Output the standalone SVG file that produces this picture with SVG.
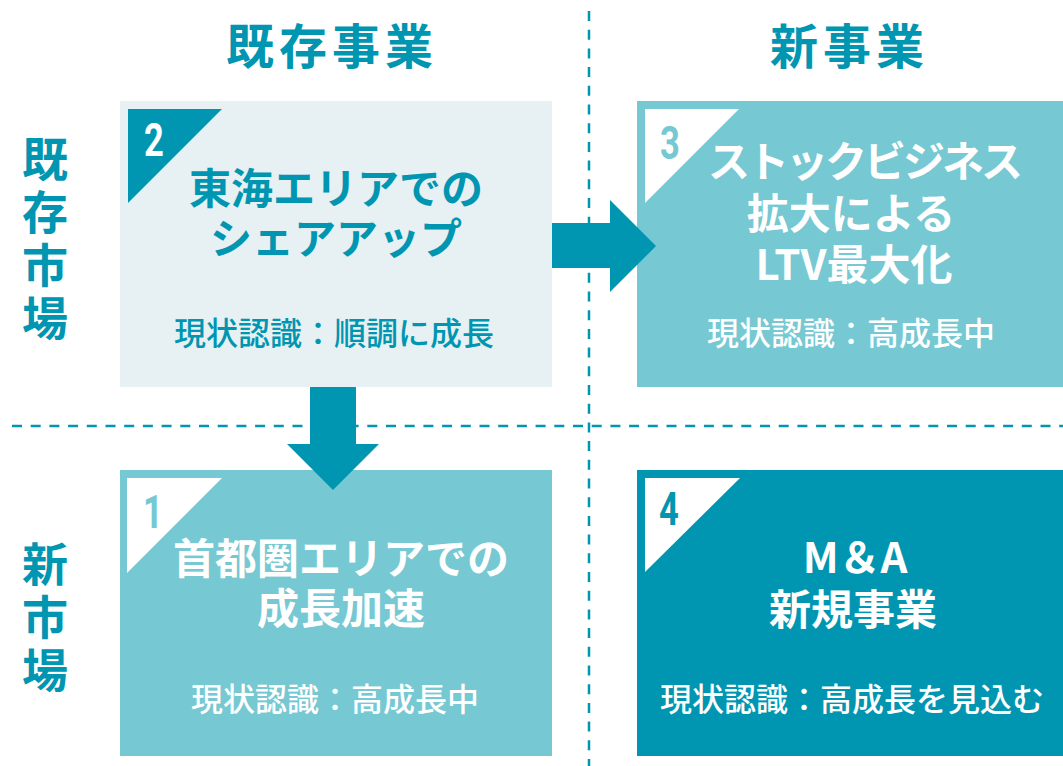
<svg xmlns="http://www.w3.org/2000/svg" width="1063" height="766" viewBox="0 0 1063 766">
<style>
.jp{font-family:"Noto Sans CJK JP","Noto Sans",sans-serif}
.hd{font-size:48px;font-weight:700;fill:#0096b1;letter-spacing:5px}
.side{font-size:46px;font-weight:700;fill:#0096b1;writing-mode:vertical-rl;letter-spacing:7px}
.ttl{font-size:42px;font-weight:700;text-anchor:middle}
.st{font-size:32px;font-weight:500;text-anchor:middle}
.num{font-family:Roboto,"Liberation Sans",sans-serif;font-size:46px;font-weight:700}
.dash{stroke:#0096b1;stroke-width:2.5;stroke-dasharray:10 8.7;fill:none}
.dark{fill:#0096b1}
.light{fill:#76c8d2}
.pale{fill:#e7f0f3}
.white{fill:#ffffff}
</style>
<g id="guides">
<line class="dash" x1="589" y1="11" x2="589" y2="766"/>
<line class="dash" x1="12" y1="426" x2="1063" y2="426"/>
</g>
<g id="headers" class="jp">
<text class="hd" x="226" y="64">既存事業</text>
<text class="hd" x="770" y="64">新事業</text>
<text class="side" x="45" y="136">既存市場</text>
<text class="side" x="45" y="541">新市場</text>
</g>
<g id="node2">
<rect class="pale" x="120" y="101" width="432" height="286"/>
<polygon class="dark" points="128,109 222,109 128,203"/>
<text class="num white" transform="translate(144,156) scale(0.75,1)">2</text>
<text class="jp ttl dark" x="336" y="204">東海エリアでの</text>
<text class="jp ttl dark" x="336" y="254">シェアアップ</text>
<text class="jp st dark" x="334" y="345">現状認識：順調に成長</text>
</g>
<g id="node3">
<rect class="light" x="637" y="101" width="426" height="286"/>
<polygon class="white" points="645,109 739,109 645,203"/>
<text class="num light" transform="translate(660,159) scale(0.75,1)">3</text>
<text class="jp white" x="708" y="177" style="font-size:42px;font-weight:700;letter-spacing:-3px">ストックビジネス</text>
<text class="jp ttl white" x="851" y="229">拡大による</text>
<text class="jp ttl white" x="854" y="280">LTV最大化</text>
<text class="jp st white" x="851" y="345">現状認識：高成長中</text>
</g>
<g id="node1">
<rect class="light" x="120" y="470" width="432" height="286"/>
<polygon class="white" points="127,478 222,478 127,573"/>
<text class="num light" transform="translate(143,528) scale(0.75,1)">1</text>
<text class="jp ttl white" x="341" y="574">首都圏エリアでの</text>
<text class="jp ttl white" x="341" y="624">成長加速</text>
<text class="jp st white" x="335" y="711">現状認識：高成長中</text>
</g>
<g id="node4">
<rect class="dark" x="637" y="470" width="426" height="286"/>
<polygon class="white" points="645,478 740,478 645,572"/>
<text class="num dark" transform="translate(659,525) scale(0.75,1)">4</text>
<text class="jp ttl white" x="855" y="573">M＆A</text>
<text class="jp ttl white" x="853" y="625">新規事業</text>
<text class="jp st white" x="852" y="711">現状認識：高成長を見込む</text>
</g>
<g id="connectors">
<polygon class="dark" points="552,223 610,223 610,200 656,246 610,292 610,268 552,268"/>
<polygon class="dark" points="310,387 356,387 356,444 379,444 333,490 287,444 310,444"/>
</g>
</svg>
